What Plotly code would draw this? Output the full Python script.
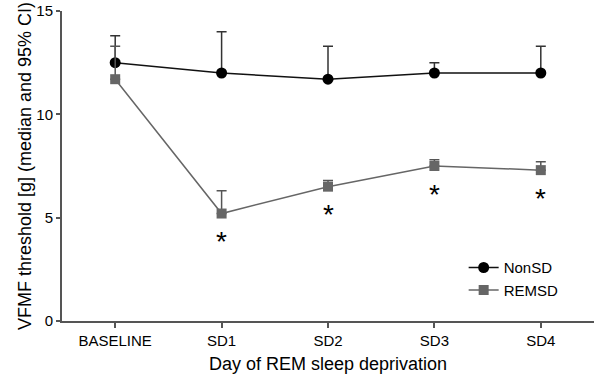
import plotly.graph_objects as go

categories = ["BASELINE", "SD1", "SD2", "SD3", "SD4"]
nonsd_median = [12.5, 12.0, 11.7, 12.0, 12.0]
nonsd_upper = [13.8, 14.0, 13.3, 12.5, 13.3]
remsd_median = [11.7, 5.2, 6.5, 7.5, 7.3]
remsd_upper = [13.3, 6.3, 6.8, 7.8, 7.7]
significant = ["", "*", "*", "*", "*"]
y_ticks = [0, 5, 10, 15]

font_family = "Liberation Sans, Arial, sans-serif"

fig = go.Figure()
fig.add_trace(go.Scatter(
    x=categories, y=nonsd_median, name="NonSD", mode="lines+markers",
    line=dict(color="#111111", width=1.5),
    marker=dict(symbol="circle", size=11, color="#000000"),
    error_y=dict(type="data", symmetric=False,
                 array=[u - m for u, m in zip(nonsd_upper, nonsd_median)],
                 arrayminus=[0] * len(nonsd_median),
                 color="#333333", thickness=1.5, width=5),
))
fig.add_trace(go.Scatter(
    x=categories, y=remsd_median, name="REMSD", mode="lines+markers",
    line=dict(color="#666666", width=1.5),
    marker=dict(symbol="square", size=10, color="#666666"),
    error_y=dict(type="data", symmetric=False,
                 array=[u - m for u, m in zip(remsd_upper, remsd_median)],
                 arrayminus=[0] * len(remsd_median),
                 color="#555555", thickness=1.5, width=5),
))

for c, m, s in zip(categories, remsd_median, significant):
    if s:
        fig.add_annotation(x=c, y=m, text=s, showarrow=False, yshift=-28,
                           font=dict(size=28, color="#000000", family=font_family))

fig.update_layout(
    width=596, height=377,
    margin=dict(l=62, r=2, t=11, b=56),
    paper_bgcolor="white", plot_bgcolor="white",
    font=dict(family=font_family, color="#000000"),
    showlegend=True,
    legend=dict(x=0.755, y=0.225, xanchor="left", yanchor="top",
                bgcolor="rgba(0,0,0,0)", font=dict(size=15),
                tracegroupgap=0, itemwidth=30),
    xaxis=dict(type="category", range=[-0.5, 4.5], automargin=False,
               showline=True, linecolor="#555555", linewidth=2,
               ticks="outside", ticklen=5, tickcolor="#555555", tickwidth=1.5,
               tickfont=dict(size=15), showgrid=False, zeroline=False,
               title=dict(text="Day of REM sleep deprivation", font=dict(size=18), standoff=9)),
    yaxis=dict(range=[0, 15], tickvals=y_ticks, automargin=False,
               showline=True, linecolor="#555555", linewidth=2,
               ticks="outside", ticklen=4, tickcolor="#555555", tickwidth=1.5,
               tickfont=dict(size=15), showgrid=False, zeroline=False,
               title=dict(text="VFMF threshold [g] (median and 95% CI)", font=dict(size=18), standoff=0)),
)

fig.write_html("out.html", config={"displayModeBar": False},
               post_script="document.body.style.margin='0';")
